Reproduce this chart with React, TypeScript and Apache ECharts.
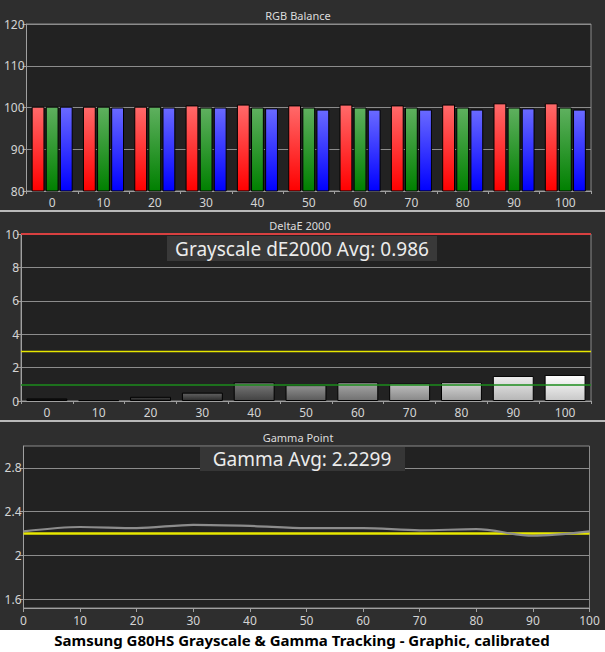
import { useEffect, useRef } from 'react';
import * as echarts from 'echarts';

const levels = ['0', '10', '20', '30', '40', '50', '60', '70', '80', '90', '100'];
const redValues = [100.2, 100.2, 100.2, 100.5, 100.7, 100.5, 100.7, 100.5, 100.7, 101.0, 101.0];
const greenValues = [100.2, 100.2, 100.2, 100.0, 100.0, 100.0, 100.0, 100.0, 100.0, 100.0, 100.0];
const blueValues = [100.2, 100.0, 100.0, 100.0, 99.8, 99.5, 99.5, 99.5, 99.5, 99.8, 99.5];
const deltaE = [0.15, 0.05, 0.25, 0.5, 1.12, 0.95, 1.12, 1.06, 1.12, 1.5, 1.56];
const gammaLevels = [0, 10, 20, 30, 40, 50, 60, 70, 80, 90, 100];
const gammaValues = [2.22, 2.26, 2.25, 2.28, 2.27, 2.25, 2.25, 2.23, 2.24, 2.18, 2.22];
const gammaTarget = 2.2;
const gammaTicks = [1.6, 2, 2.4, 2.8];
const deltaELimits = { red: 10, yellow: 3, green: 1 };

const FONT = '"Noto Sans", "DejaVu Sans", sans-serif';
const LABEL = '#d4d4d4';
const GRID_LINE = '#8c8c8c';

const vGrad = (top: string, bottom: string) =>
  new echarts.graphic.LinearGradient(0, 0, 0, 1, [
    { offset: 0, color: top },
    { offset: 1, color: bottom },
  ]);

const grayFor = (level: number) => {
  const top = Math.min(255, Math.round(30 + level * 2.3));
  const bottom = Math.max(10, top - 55);
  const h = (v: number) => v.toString(16).padStart(2, '0');
  return vGrad(`#${h(top)}${h(top)}${h(top)}`, `#${h(bottom)}${h(bottom)}${h(bottom)}`);
};

export default function App() {
  const chartRef = useRef<HTMLDivElement>(null);

  useEffect(() => {
    if (!chartRef.current) return;
    const chart = echarts.init(chartRef.current, null, { renderer: 'svg' });

    const axisLabel = { color: LABEL, fontSize: 12, fontFamily: FONT };
    const axisLine = { lineStyle: { color: '#a0a0a0', width: 1 } };
    const splitLine = { show: true, lineStyle: { color: GRID_LINE, width: 1 } };
    const gridBase = { show: true, backgroundColor: '#222222', borderColor: '#8a8a8a', borderWidth: 1 };

    const barStyle = (top: string, bottom: string) => ({
      color: vGrad(top, bottom),
      borderColor: '#000',
      borderWidth: 1,
    });

    const option: any = {
      animation: false,
      backgroundColor: '#ffffff',
      grid: [
        { ...gridBase, left: 26.5, right: 14, top: 24, height: 167 },
        { ...gridBase, left: 21, right: 14, top: 234, height: 167 },
        { ...gridBase, left: 23.5, right: 15.5, top: 446, height: 162 },
      ],
      xAxis: [
        {
          type: 'category',
          gridIndex: 0,
          data: levels,
          axisLine,
          axisTick: { show: true, length: 3, lineStyle: { color: '#a0a0a0' } },
          axisLabel: { ...axisLabel, margin: 5 },
        },
        {
          type: 'category',
          gridIndex: 1,
          data: levels,
          axisLine,
          axisTick: { show: true, length: 3, lineStyle: { color: '#a0a0a0' } },
          axisLabel: { ...axisLabel, margin: 5 },
        },
        {
          type: 'value',
          gridIndex: 2,
          min: 0,
          max: 100,
          interval: 10,
          axisLine,
          splitLine: { show: false },
          axisTick: { show: true, length: 4, lineStyle: { color: '#a0a0a0' } },
          axisLabel: { ...axisLabel, margin: 6 },
        },
      ],
      yAxis: [
        {
          type: 'value',
          gridIndex: 0,
          min: 80,
          max: 120,
          interval: 10,
          axisLine: { show: true, ...axisLine },
          axisTick: { show: true, length: 4, lineStyle: { color: '#a0a0a0' } },
          axisLabel: { ...axisLabel, margin: 2 },
          splitLine,
        },
        {
          type: 'value',
          gridIndex: 1,
          min: 0,
          max: 10,
          interval: 2,
          axisLine: { show: true, ...axisLine },
          axisTick: { show: true, length: 4, lineStyle: { color: '#a0a0a0' } },
          axisLabel: { ...axisLabel, margin: 2 },
          splitLine,
        },
        {
          type: 'value',
          gridIndex: 2,
          min: 1.52,
          max: 3.0,
          axisLine: { show: true, ...axisLine },
          axisTick: { show: true, length: 4, customValues: gammaTicks, lineStyle: { color: '#a0a0a0' } },
          axisLabel: { ...axisLabel, margin: 2, customValues: gammaTicks },
          splitLine,
        },
      ],
      series: [
        {
          type: 'bar',
          xAxisIndex: 0,
          yAxisIndex: 0,
          data: redValues,
          barGap: '10%',
          barCategoryGap: '20%',
          itemStyle: barStyle('#ff6a6a', '#ff0000'),
        },
        {
          type: 'bar',
          xAxisIndex: 0,
          yAxisIndex: 0,
          data: greenValues,
          barGap: '10%',
          barCategoryGap: '20%',
          itemStyle: barStyle('#5fb05f', '#008000'),
        },
        {
          type: 'bar',
          xAxisIndex: 0,
          yAxisIndex: 0,
          data: blueValues,
          barGap: '10%',
          barCategoryGap: '20%',
          itemStyle: barStyle('#6a6aff', '#0000ff'),
        },
        {
          type: 'bar',
          xAxisIndex: 1,
          yAxisIndex: 1,
          barCategoryGap: '21%',
          data: deltaE.map((v, i) => ({
            value: v,
            itemStyle: { color: grayFor(Number(levels[i])), borderColor: '#000', borderWidth: 1 },
          })),
          markLine: {
            silent: true,
            symbol: 'none',
            label: { show: false },
            data: [
              { yAxis: deltaELimits.red, lineStyle: { color: '#d84040', width: 2, type: 'solid' } },
              { yAxis: deltaELimits.yellow, lineStyle: { color: '#e6e600', width: 1.3, type: 'solid', opacity: 1 } },
              { yAxis: deltaELimits.green, lineStyle: { color: '#1c8c1c', width: 1.5, type: 'solid', opacity: 1 } },
            ],
          },
        },
        {
          type: 'line',
          xAxisIndex: 2,
          yAxisIndex: 2,
          data: gammaLevels.map((l) => [l, gammaTarget]),
          symbol: 'none',
          lineStyle: { color: '#e8e800', width: 2.5 },
          z: 3,
        },
        {
          type: 'line',
          xAxisIndex: 2,
          yAxisIndex: 2,
          data: gammaLevels.map((l, i) => [l, gammaValues[i]]),
          symbol: 'none',
          smooth: 0.3,
          lineStyle: { color: '#8c8c8c', width: 2.2 },
          z: 4,
        },
      ],
      graphic: [
        { type: 'rect', z: -10, shape: { x: 0, y: 0, width: 605, height: 630 }, style: { fill: '#2e2e2e' } },
        { type: 'line', z: 50, shape: { x1: 0, y1: 211, x2: 605, y2: 211 }, style: { stroke: '#e8e8e8', lineWidth: 1.5 } },
        { type: 'line', z: 50, shape: { x1: 0, y1: 421, x2: 605, y2: 421 }, style: { stroke: '#e8e8e8', lineWidth: 1.5 } },
        {
          type: 'text', z: 50, x: 298, y: 15,
          style: { text: 'RGB Balance', fill: '#dcdcdc', font: `11px ${FONT}`, align: 'center', verticalAlign: 'middle' },
        },
        {
          type: 'text', z: 50, x: 300, y: 225,
          style: { text: 'DeltaE 2000', fill: '#dcdcdc', font: `11px ${FONT}`, align: 'center', verticalAlign: 'middle' },
        },
        {
          type: 'text', z: 50, x: 298, y: 437,
          style: { text: 'Gamma Point', fill: '#dcdcdc', font: `11px ${FONT}`, align: 'center', verticalAlign: 'middle' },
        },
        { type: 'rect', z: 100, shape: { x: 167, y: 236, width: 270, height: 25 }, style: { fill: '#393939' } },
        {
          type: 'text', z: 101, x: 302, y: 249,
          style: { text: 'Grayscale dE2000 Avg: 0.986', fill: '#ececec', font: `19px ${FONT}`, align: 'center', verticalAlign: 'middle' },
        },
        { type: 'rect', z: 100, shape: { x: 200, y: 447, width: 205, height: 24 }, style: { fill: '#363636' } },
        {
          type: 'text', z: 101, x: 302, y: 459,
          style: { text: 'Gamma Avg: 2.2299', fill: '#ececec', font: `19px ${FONT}`, align: 'center', verticalAlign: 'middle' },
        },
        {
          type: 'text', z: 101, x: 302, y: 640,
          style: {
            text: 'Samsung G80HS Grayscale & Gamma Tracking - Graphic, calibrated',
            fill: '#000',
            font: `bold 15px ${FONT}`,
            align: 'center',
            verticalAlign: 'middle',
          },
        },
      ],
    };

    chart.setOption(option);
    return () => {
      chart.dispose();
    };
  }, []);

  return (
    <div
      ref={chartRef}
      style={{ position: 'absolute', left: 0, top: 0, width: 605, height: 652 }}
    />
  );
}
